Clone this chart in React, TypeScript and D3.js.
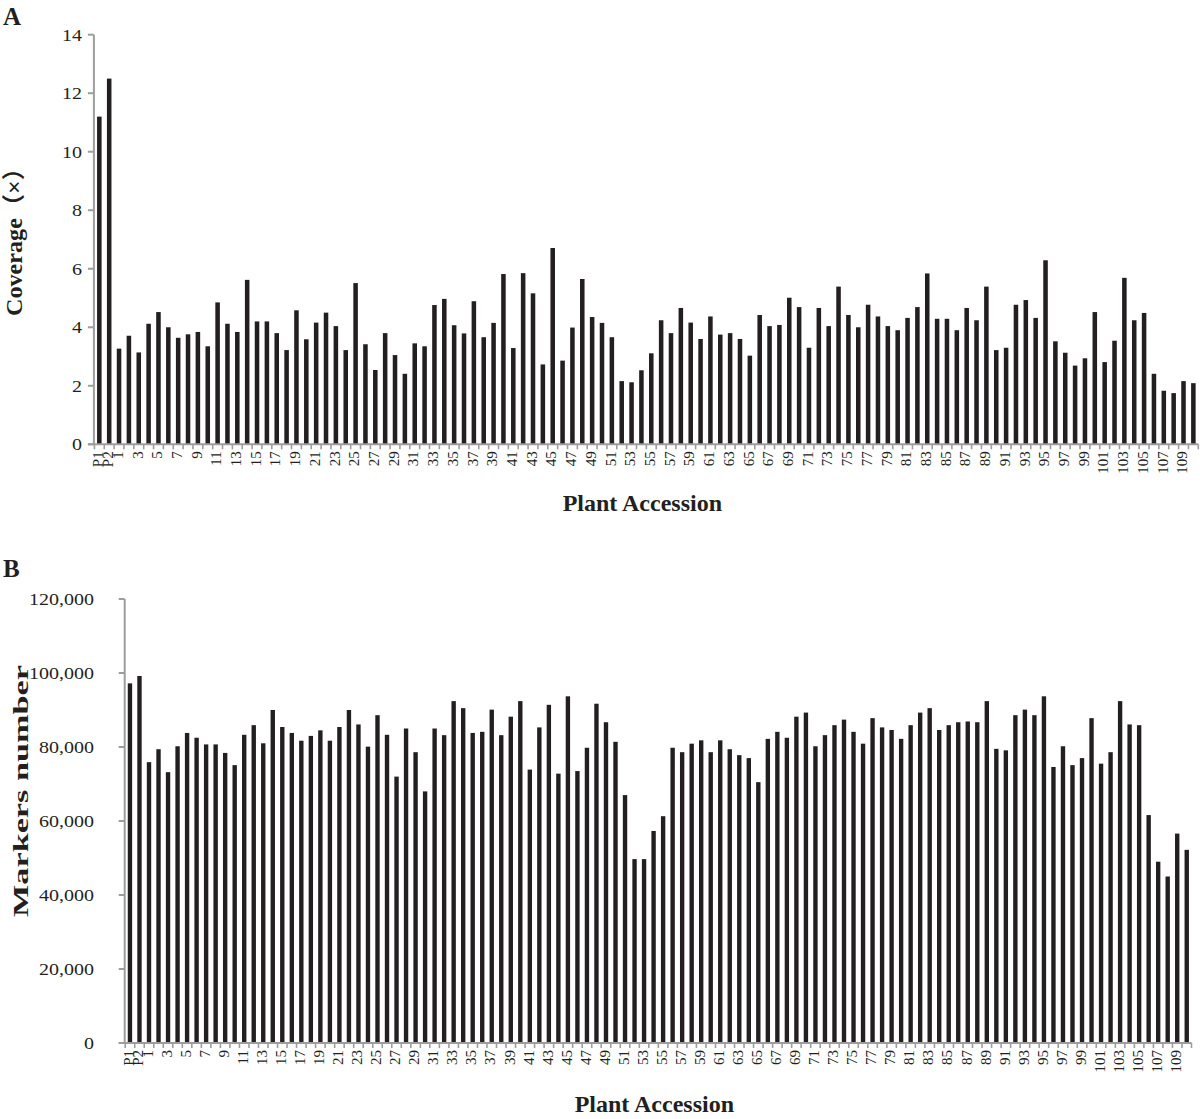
import React from "react";
import * as d3 from "d3";

const categories: string[] = [
  "P1", "P2",
  "1", "2", "3", "4", "5", "6", "7", "8", "9", "10",
  "11", "12", "13", "14", "15", "16", "17", "18", "19", "20",
  "21", "22", "23", "24", "25", "26", "27", "28", "29", "30",
  "31", "32", "33", "34", "35", "36", "37", "38", "39", "40",
  "41", "42", "43", "44", "45", "46", "47", "48", "49", "50",
  "51", "52", "53", "54", "55", "56", "57", "58", "59", "60",
  "61", "62", "63", "64", "65", "66", "67", "68", "69", "70",
  "71", "72", "73", "74", "75", "76", "77", "78", "79", "80",
  "81", "82", "83", "84", "85", "86", "87", "88", "89", "90",
  "91", "92", "93", "94", "95", "96", "97", "98", "99", "100",
  "101", "102", "103", "104", "105", "106", "107", "108", "109", "110",
];

const coverage: number[] = [
  11.2, 12.5,
  3.27, 3.71, 3.14, 4.12, 4.52, 4.0, 3.64, 3.76, 3.84, 3.35,
  4.85, 4.12, 3.84, 5.62, 4.2, 4.2, 3.8, 3.22, 4.58, 3.59,
  4.16, 4.5, 4.04, 3.22, 5.51, 3.42, 2.54, 3.8, 3.05, 2.41,
  3.45, 3.35, 4.76, 4.97, 4.07, 3.79, 4.89, 3.66, 4.15, 5.82,
  3.29, 5.85, 5.16, 2.73, 6.71, 2.86, 3.99, 5.65, 4.35, 4.15,
  3.66, 2.16, 2.12, 2.53, 3.11, 4.24, 3.8, 4.66, 4.16, 3.6,
  4.37, 3.75, 3.8, 3.6, 3.03, 4.42, 4.04, 4.08, 5.01, 4.69,
  3.3, 4.66, 4.04, 5.39, 4.42, 4.0, 4.77, 4.37, 4.04, 3.9,
  4.32, 4.69, 5.84, 4.29, 4.29, 3.9, 4.66, 4.24, 5.39, 3.22,
  3.3, 4.77, 4.93, 4.32, 6.29, 3.52, 3.13, 2.69, 2.94, 4.52,
  2.81, 3.54, 5.69, 4.24, 4.49, 2.41, 1.83, 1.75, 2.16, 2.09,
];

const markers: number[] = [
  97200, 99200,
  75900, 79400, 73200, 80200, 83800, 82500, 80700, 80700, 78400, 75100,
  83300, 85900, 81000, 90000, 85400, 83800, 81700, 83000, 84500, 81700,
  85400, 90000, 86100, 80100, 88600, 83300, 72000, 85000, 78600, 68000,
  85000, 83200, 92400, 90500, 83800, 84100, 90100, 83200, 88200, 92400,
  73900, 85300, 91400, 72800, 93700, 73500, 79800, 91700, 86700, 81400,
  67000, 49700, 49700, 57300, 61300, 79800, 78600, 80900, 81800, 78600,
  81800, 79400, 77800, 77000, 70500, 82200, 84100, 82500, 88200, 89300,
  80200, 83200, 85900, 87400, 84100, 80900, 87800, 85300, 84600, 82200,
  85900, 89300, 90500, 84600, 85900, 86700, 86900, 86700, 92400, 79500,
  79100, 88600, 90100, 88600, 93700, 74600, 80200, 75100, 77000, 87800,
  75500, 78600, 92400, 86100, 85900, 61600, 49000, 45000, 56600, 52200,
];

const coverageTicks: number[] = [0, 2, 4, 6, 8, 10, 12, 14];
const markerTicks: number[] = [0, 20000, 40000, 60000, 80000, 100000, 120000];

const FONT = "'Liberation Serif', 'Times New Roman', serif";
const INK = "#231f20";
const AXIS = "#9d9d9d";

type PanelProps = {
  letter: string;
  letterY: number;
  values: number[];
  ticks: number[];
  maxV: number;
  x0: number;
  x1: number;
  yTop: number;
  yBottom: number;
  tickFmt: (v: number) => string;
  labelRight: number;
  yTitle: string;
  yTitleX: number;
  yTitleCenter: number;
  yTitleLen: number;
  yTitleSize: number;
  xTitleY: number;
};

function tickTextLen(s: string): number {
  let w = 0;
  for (const ch of s) w += ch === "," ? 5 : 10;
  return w;
}

function Panel(p: PanelProps) {
  const pad = 0.54;
  const x = d3
    .scaleBand<string>()
    .domain(categories)
    .range([p.x0, p.x1])
    .paddingInner(pad)
    .paddingOuter(pad / 2);
  const y = d3.scaleLinear().domain([0, p.maxV]).range([p.yBottom, p.yTop]);
  const step = x.step();
  const bw = x.bandwidth();
  const bounds = categories.map((c) => (x(c) as number) - (step - bw) / 2);
  bounds.push(bounds[bounds.length - 1] + step);
  const showLabel = (c: string) =>
    c.startsWith("P") || parseInt(c, 10) % 2 === 1;

  return (
    <g>
      <text x={3} y={p.letterY} fontFamily={FONT} fontWeight="bold" fontSize={25} fill={INK}>
        {p.letter}
      </text>
      {categories.map((c, i) => (
        <rect
          key={c}
          x={x(c) as number}
          y={y(p.values[i])}
          width={bw}
          height={p.yBottom - y(p.values[i])}
          fill={INK}
        />
      ))}
      <line x1={p.x0 - 0.5} x2={p.x0 - 0.5} y1={p.yTop} y2={p.yBottom} stroke={AXIS} strokeWidth={2} />
      {p.ticks.map((t) => (
        <g key={t}>
          <line x1={p.x0 - 6.5} x2={p.x0 - 0.5} y1={y(t)} y2={y(t)} stroke={AXIS} strokeWidth={2} />
          <text
            x={p.labelRight}
            y={y(t)}
            dy="0.35em"
            textAnchor="end"
            fontFamily={FONT}
            fontSize={17}
            fill={INK}
            textLength={tickTextLen(p.tickFmt(t))}
            lengthAdjust="spacingAndGlyphs"
          >
            {p.tickFmt(t)}
          </text>
        </g>
      ))}
      <line x1={p.x0 - 6.5} x2={p.x1} y1={p.yBottom} y2={p.yBottom} stroke={AXIS} strokeWidth={2} />
      {bounds.map((b, i) => (
        <line key={i} x1={b} x2={b} y1={p.yBottom} y2={p.yBottom + 5} stroke={AXIS} strokeWidth={1.6} />
      ))}
      {categories.filter(showLabel).map((c) => {
        const cx = (x(c) as number) + bw / 2 - 1.5;
        const ty = p.yBottom + 7;
        return (
          <text
            key={c}
            transform={`translate(${cx},${ty}) rotate(-90)`}
            dy="0.35em"
            textAnchor="end"
            fontFamily={FONT}
            fontSize={15}
            fill={INK}
          >
            {c}
          </text>
        );
      })}
      <text
        x={(p.x0 + p.x1) / 2 - 4}
        y={p.xTitleY}
        textAnchor="middle"
        fontFamily={FONT}
        fontWeight="bold"
        fontSize={24}
        fill={INK}
      >
        Plant Accession
      </text>
      <text
        transform={`translate(${p.yTitleX},${p.yTitleCenter}) rotate(-90)`}
        textAnchor="middle"
        fontFamily={`${FONT}, 'Noto Sans CJK SC'`}
        fontWeight="bold"
        fontSize={p.yTitleSize}
        fill={INK}
        textLength={p.yTitleLen}
        lengthAdjust="spacingAndGlyphs"
      >
        {p.yTitle}
      </text>
    </g>
  );
}

export default function App() {
  const fmtComma = d3.format(",");
  return (
    <div style={{ position: "absolute", left: 0, top: 0 }}>
      <svg width={1200} height={1119} style={{ display: "block", background: "#fff" }}>
        <rect width={1200} height={1119} fill="#fff" />
        <Panel
          letter="A"
          letterY={25}
          values={coverage}
          ticks={coverageTicks}
          maxV={14}
          x0={94.4}
          x1={1198.3}
          yTop={34.7}
          yBottom={444.3}
          tickFmt={(v) => String(v)}
          labelRight={82}
          yTitle="Coverage（×）"
          yTitleX={22}
          yTitleCenter={236}
          yTitleLen={160}
          yTitleSize={23}
          xTitleY={511}
        />
        <Panel
          letter="B"
          letterY={577}
          values={markers}
          ticks={markerTicks}
          maxV={120000}
          x0={125.2}
          x1={1191.5}
          yTop={599}
          yBottom={1043}
          tickFmt={(v) => fmtComma(v)}
          labelRight={94}
          yTitle="Markers number"
          yTitleX={28}
          yTitleCenter={791}
          yTitleLen={252}
          yTitleSize={22}
          xTitleY={1112}
        />
      </svg>
    </div>
  );
}
